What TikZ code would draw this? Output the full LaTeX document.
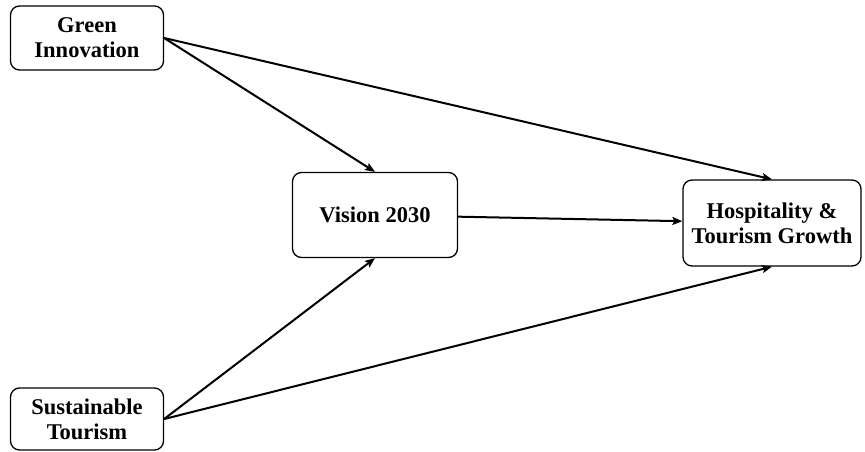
\documentclass[tikz,border=0pt]{standalone}
\usepackage{fontspec}
\setmainfont{Liberation Serif}
\usetikzlibrary{arrows.meta}

\begin{document}
\begin{tikzpicture}[x=1pt,y=-1pt]
        \useasboundingbox (0,0) rectangle (865,452);

        \begin{scope}[every node/.style={draw, rounded corners=9pt, line width=1.3pt, align=center,
            font=\fontsize{22.5}{25}\selectfont\bfseries, inner sep=0pt}]
          \node[minimum width=153, minimum height=64] (gi)  at (87,38)   {Green\\Innovation};
          \node[minimum width=165, minimum height=85] (v)   at (375,215) {Vision 2030};
          \node[minimum width=178, minimum height=86] (htg) at (772,223) {Hospitality \&\\Tourism Growth};
          \node[minimum width=153, minimum height=62] (st)  at (87,419)  {Sustainable\\Tourism};
        \end{scope}

        \begin{scope}[every edge/.style={draw, line width=2pt, -{Stealth[length=10pt, width=8pt, inset=2pt]}}]
          \path (gi.east) edge (v.north);
          \path (gi.east) edge (htg.north);
          \path (v)       edge (htg);
          \path (st.east) edge (v.south);
          \path (st.east) edge (htg.south);
        \end{scope}

      \end{tikzpicture}
\end{document}
